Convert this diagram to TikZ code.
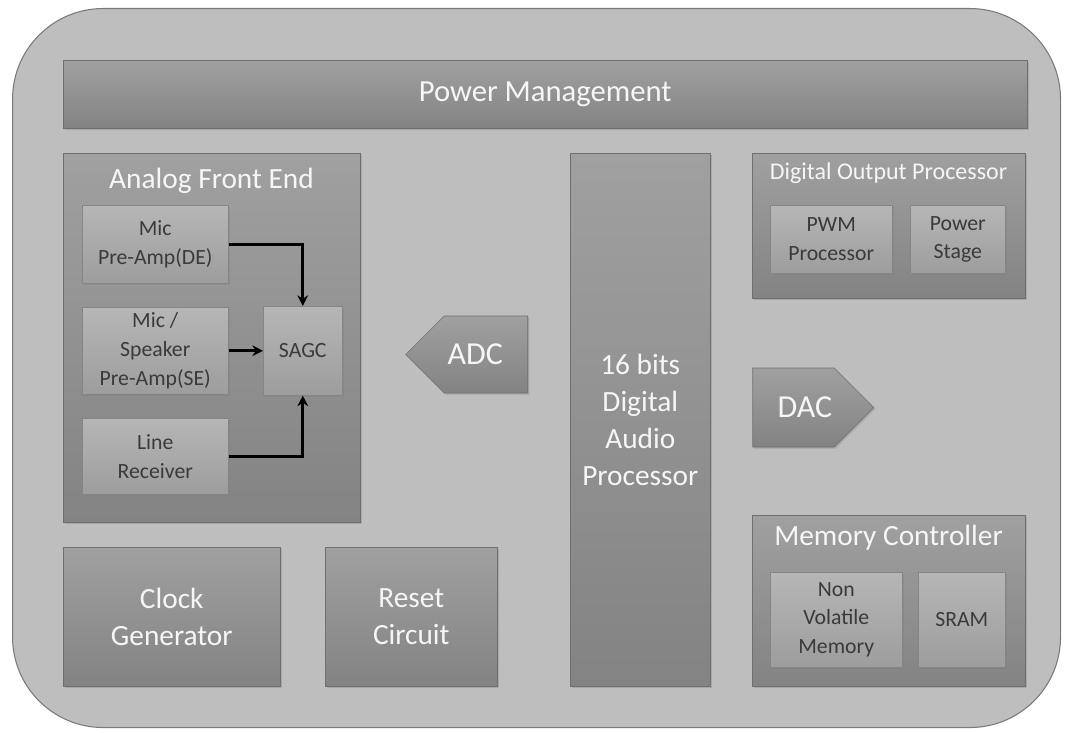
\documentclass[tikz,border=0pt]{standalone}
\usepackage{fontspec}
\setmainfont{Carlito}
\usepackage{tikz}
\usetikzlibrary{arrows.meta}
\usetikzlibrary{shapes.symbols}
\usetikzlibrary{shadows}
\usepackage{xcolor}
\definecolor{panelbg}{HTML}{BEBEBE}
\definecolor{paneledge}{HTML}{7A7A7A}
\definecolor{blocktop}{HTML}{A0A0A0}
\definecolor{blockbot}{HTML}{838383}
\definecolor{celltop}{HTML}{B6B6B6}
\definecolor{cellbot}{HTML}{9D9D9D}
\definecolor{celltext}{HTML}{3A3A3A}
\definecolor{lighttext}{HTML}{F6F6F6}

\tikzset{
  boxsize/.style 2 args={minimum width=#1*0.75pt, minimum height=#2*0.75pt},
  block/.style={draw=blockbot!85!black, top color=blocktop, bottom color=blockbot,
    drop shadow={opacity=0.35, shadow xshift=1.2pt, shadow yshift=-1.2pt},
    anchor=north west, inner sep=0pt, align=center, text=lighttext,
    font=\fontsize{22}{28}\selectfont},
  cell/.style={block, top color=celltop, bottom color=cellbot, draw=cellbot!85!black,
    text=celltext, font=\fontsize{16.3}{21.5}\selectfont},
  arrowbox/.style={block, shape=signal, signal from=nowhere, anchor=center,
    font=\fontsize{24}{30}\selectfont},
  title/.style={text=lighttext, inner sep=0pt, font=\fontsize{22}{26}\selectfont},
  link/.style={line width=2pt, black, -{Stealth[length=8pt, width=8pt]}},
}

\begin{document}
\begin{tikzpicture}[x=0.75pt, y=-0.75pt]
  \useasboundingbox (0,0) rectangle (1067,734);

  % --- chip outline ---
  \node[draw=paneledge, line width=0.8pt, fill=panelbg, rounded corners=68pt,
    anchor=north west, inner sep=0pt, boxsize={1048}{719}] (chip) at (12,8) {};

  % --- top rail ---
  \node[block, boxsize={964}{68}, font=\fontsize{23}{28}\selectfont] (power) at (63,60) {Power Management};

  % --- analog front end ---
  \node[block, boxsize={297}{369}] (afe) at (63,153) {};
  \node[title] (afetitle) at (211.5,181) {Analog Front End};
  \node[cell, boxsize={146}{78}] (micde) at (82,205) {Mic\\Pre-Amp(DE)};
  \node[cell, boxsize={146}{87}] (micse) at (82,307) {Mic /\\Speaker\\Pre-Amp(SE)};
  \node[cell, boxsize={146}{76}] (linerx) at (82,418) {Line\\Receiver};
  \node[cell, boxsize={79}{89}] (sagc) at (263,306) {SAGC};

  \draw[link] (micde.east) -| (sagc.north);
  \draw[link] (micse.east) -- (sagc.west);
  \draw[link] (linerx.east) -| (sagc.south);

  % --- clock and reset ---
  \node[block, boxsize={217}{139}] (clock) at (63,547) {Clock\\Generator};
  \node[block, boxsize={172}{139}] (reset) at (325,547) {Reset\\Circuit};

  % --- converters and core ---
  \node[arrowbox, signal to=west, boxsize={122}{77}] (adc) at (486,354.5) {ADC\hspace*{16pt}};
  \node[block, boxsize={140}{533}, font=\fontsize{22}{27.8}\selectfont] (dap) at (570,153) {16 bits\\Digital\\Audio\\Processor};
  \node[arrowbox, signal to=east, boxsize={121}{79}] (dac) at (793.5,407.5) {\hspace*{17pt}DAC};

  % --- digital output processor ---
  \node[block, boxsize={273}{145}] (dop) at (752,153) {};
  \node[title, font=\fontsize{18}{21}\selectfont] (doptitle) at (888.5,173) {Digital Output Processor};
  \node[cell, boxsize={122}{68}] (pwm) at (770,205) {PWM\\Processor};
  \node[cell, boxsize={95}{68}] (pstage) at (910,205) {Power\\Stage};

  % --- memory controller ---
  \node[block, boxsize={273}{171}] (memctl) at (752,515) {};
  \node[title] (memtitle) at (888.5,538) {Memory Controller};
  \node[cell, boxsize={132}{95}] (nvm) at (770,572) {Non\\Volatile\\Memory};
  \node[cell, boxsize={87}{95}] (sram) at (918,572) {SRAM};
\end{tikzpicture}
\end{document}
